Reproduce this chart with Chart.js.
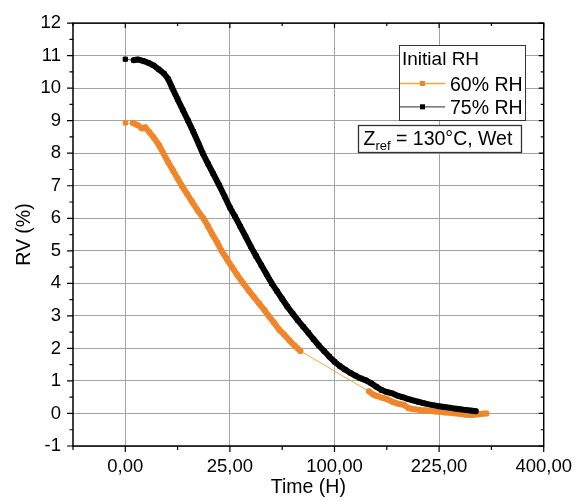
<!DOCTYPE html>
<html>
<head>
<meta charset="utf-8">
<title>RV vs time</title>
<script src="https://cdn.jsdelivr.net/npm/chart.js@4.4.1/dist/chart.umd.min.js"></script>
<style>
    html, body { margin: 0; padding: 0; background: #fff; }
    #chart { display: block; }
</style>
</head>
<body>
<canvas id="chart" width="582" height="501"></canvas>
<script>
// DATA - x is the square root of time (h), the axis labels show the hours
var rootT60 = [0, 0.36, 0.6, 0.8, 0.95, 1.15, 1.35, 1.6, 1.82, 2.05, 2.3, 2.5, 2.7, 2.95, 3.2, 3.45, 3.73, 3.95,
    4.15, 4.4, 4.6, 4.85, 5.1, 5.35, 5.64, 5.9, 6.15, 6.4, 6.65, 6.85, 7.1, 7.35, 7.6, 7.85, 8.1, 8.37,
    11.65, 11.85, 12.05, 12.3, 12.55, 12.8, 13.05, 13.3, 13.55, 13.8, 14.05, 14.3, 14.55, 14.8, 15.05,
    15.3, 15.55, 15.8, 16.05, 16.3, 16.55, 16.8, 17.05, 17.26];
var rv60 = [8.93, 8.93, 8.86, 8.76, 8.8, 8.65, 8.49, 8.26, 8.0, 7.72, 7.45, 7.22, 7.0, 6.75, 6.5, 6.25, 6.0, 5.76,
    5.52, 5.25, 5.0, 4.75, 4.5, 4.26, 4.0, 3.78, 3.58, 3.38, 3.18, 3.0, 2.8, 2.58, 2.42, 2.24, 2.08, 1.92,
    0.68, 0.58, 0.53, 0.48, 0.43, 0.35, 0.3, 0.27, 0.16, 0.13, 0.11, 0.1, 0.08, 0.06, 0.05,
    0.03, 0.02, 0.0, -0.02, -0.04, -0.05, -0.03, -0.01, 0.0];

var rootT75 = [0, 0.4, 0.6, 0.85, 1.1, 1.35, 1.6, 1.85, 2.05, 2.25, 2.5, 2.75, 3.0, 3.25, 3.5, 3.7, 3.95, 4.2,
    4.5, 4.75, 5.0, 5.25, 5.5, 5.75, 6.0, 6.25, 6.5, 6.75, 7.0, 7.25, 7.5, 7.75, 8.0, 8.25, 8.5, 8.75, 9.0,
    9.25, 9.5, 9.75, 10.0, 10.25, 10.5, 10.75, 11.0, 11.25, 11.5, 11.75, 12.0, 12.25, 12.5, 12.75, 13.0,
    13.25, 13.5, 13.75, 14.0, 14.25, 14.5, 14.75, 15.0, 15.25, 15.5, 15.75, 16.0, 16.25, 16.5, 16.75];
var rv75 = [10.89, 10.86, 10.88, 10.84, 10.78, 10.7, 10.58, 10.45, 10.28, 10.0, 9.66, 9.33, 9.0, 8.66, 8.3, 8.0,
    7.68, 7.37, 7.0, 6.67, 6.33, 6.05, 5.74, 5.44, 5.13, 4.84, 4.56, 4.28, 4.0, 3.76, 3.52, 3.28, 3.07,
    2.86, 2.67, 2.48, 2.28, 2.09, 1.92, 1.75, 1.59, 1.46, 1.35, 1.25, 1.16, 1.08, 1.02, 0.93, 0.82, 0.72,
    0.66, 0.62, 0.55, 0.5, 0.45, 0.4, 0.36, 0.32, 0.28, 0.25, 0.22, 0.2, 0.18, 0.15, 0.13, 0.11, 0.09, 0.07];

var seriesNames = ["60% RH", "75% RH"];
var xTickPos = [0, 5, 10, 15, 20];
var xTickLabels = ["0,00", "25,00", "100,00", "225,00", "400,00"];

// STYLE
var FONT = "'Liberation Sans', Arial, sans-serif";
var ORANGE = "#f0862a";
var ORANGE_LINE = "#f5a933";
var BLACK_LINE = "#555555";
var GRID = "#a3a3a3";
var GAP = 0.3; // wider steps than this get the thin connecting line

Chart.defaults.font.family = FONT;
Chart.defaults.color = "#000";

function toPoints(xs, ys) {
    return xs.map(function (x, i) {
        return { x: x, y: ys[i] };
    });
}

function isGap(seg) {
    return seg.p1.parsed.x - seg.p0.parsed.x > GAP;
}

function seriesDataset(label, xs, ys, color, thinColor, order) {
    return {
        label: label,
        data: toPoints(xs, ys),
        showLine: true,
        order: order,
        borderColor: color,
        borderWidth: 6,
        borderCapStyle: "round",
        borderJoinStyle: "round",
        pointStyle: "rect",
        pointRadius: 3,
        pointBorderWidth: 1,
        pointBackgroundColor: color,
        pointBorderColor: color,
        legendLine: thinColor,
        segment: {
            borderWidth: function (seg) { return isGap(seg) ? 1 : 6; },
            borderColor: function (seg) { return isGap(seg) ? thinColor : color; },
        },
    };
}

// FRAME, MINOR TICKS, LEGEND AND NOTE (drawn like the Origin plot)
var originDecor = {
    id: "originDecor",
    afterDatasetsDraw: function (chart) {
        var ctx = chart.ctx;
        var a = chart.chartArea;
        var xs = chart.scales.x;
        var ys = chart.scales.y;
        ctx.save();

        ctx.strokeStyle = "#000";
        ctx.lineWidth = 1.5;
        ctx.strokeRect(a.left, a.top, a.right - a.left, a.bottom - a.top);

        ctx.lineWidth = 1.2;
        ctx.beginPath();
        for (var v = ys.min; v <= ys.max; v += 0.5) {
            var py = ys.getPixelForValue(v);
            var major = v % 1 === 0;
            ctx.moveTo(a.left, py);
            ctx.lineTo(a.left - (major ? 6 : 3.5), py);
            ctx.moveTo(a.right, py);
            ctx.lineTo(a.right - (major ? 5 : 3), py);
        }
        for (var u = xs.min; u <= xs.max; u += 2.5) {
            var px = xs.getPixelForValue(u);
            var maj = u % 5 === 0;
            ctx.moveTo(px, a.bottom);
            ctx.lineTo(px, a.bottom + (maj ? 6 : 4));
            ctx.moveTo(px, a.top);
            ctx.lineTo(px, a.top + (maj ? 5 : 3));
        }
        ctx.stroke();

        // legend box
        ctx.fillStyle = "#fff";
        ctx.fillRect(399, 45, 127, 76);
        ctx.strokeStyle = "#333";
        ctx.lineWidth = 1;
        ctx.strokeRect(399.5, 45.5, 126, 75);
        ctx.fillStyle = "#000";
        ctx.font = "19px " + FONT;
        ctx.textBaseline = "alphabetic";
        ctx.fillText("Initial RH", 402, 65);
        chart.data.datasets.forEach(function (ds, i) {
            var ly = 83.5 + i * 23.3;
            ctx.strokeStyle = ds.legendLine;
            ctx.lineWidth = 1.3;
            ctx.beginPath();
            ctx.moveTo(400, ly);
            ctx.lineTo(445, ly);
            ctx.stroke();
            ctx.fillStyle = ds.pointBackgroundColor;
            ctx.fillRect(420, ly - 2.5, 5, 5);
            ctx.fillStyle = "#000";
            ctx.font = "19.5px " + FONT;
            ctx.fillText(ds.label, 450, ly + 7.5);
        });

        // note box
        ctx.fillStyle = "#fff";
        ctx.fillRect(359, 126, 163, 27);
        ctx.strokeStyle = "#333";
        ctx.strokeRect(358.5, 125.5, 163, 27);
        ctx.fillStyle = "#000";
        ctx.font = "19.5px " + FONT;
        var tx = 363.5;
        ctx.fillText("Z", tx, 145);
        tx += ctx.measureText("Z").width;
        ctx.font = "13px " + FONT;
        ctx.fillText("ref", tx, 150);
        tx += ctx.measureText("ref").width;
        ctx.font = "19.5px " + FONT;
        ctx.fillText(" = 130\u00b0C, Wet", tx, 145);

        ctx.restore();
    },
};

var chart = new Chart(document.getElementById("chart"), {
    type: "scatter",
    data: {
        datasets: [
            seriesDataset(seriesNames[0], rootT60, rv60, ORANGE, ORANGE_LINE, 1),
            seriesDataset(seriesNames[1], rootT75, rv75, "#000", BLACK_LINE, 0),
        ],
    },
    options: {
        responsive: false,
        animation: false,
        layout: { padding: { top: 15, right: 38, left: 0, bottom: 0 } },
        plugins: {
            legend: { display: false },
            tooltip: { enabled: false },
        },
        scales: {
            x: {
                type: "linear",
                min: -2.5,
                max: 20,
                afterBuildTicks: function (s) {
                    s.ticks = xTickPos.map(function (v) { return { value: v }; });
                },
                afterFit: function (s) { s.height = 55; },
                grid: { color: GRID, lineWidth: 1, drawTicks: false },
                border: { display: false },
                ticks: {
                    padding: 10,
                    maxRotation: 0,
                    autoSkip: false,
                    font: { size: 18.5 },
                    callback: function (v) { return xTickLabels[xTickPos.indexOf(v)]; },
                },
                title: {
                    display: true,
                    text: "Time (H)",
                    font: { size: 19.5 },
                    padding: { top: 0, bottom: 2 },
                },
            },
            y: {
                min: -1,
                max: 12,
                afterFit: function (s) { s.width = 73; },
                grid: { color: GRID, lineWidth: 1, drawTicks: false },
                border: { display: false },
                ticks: { stepSize: 1, padding: 12, font: { size: 18.5 } },
                title: {
                    display: true,
                    text: "RV (%)",
                    font: { size: 19.5 },
                    padding: { top: 13, bottom: 0 },
                },
            },
        },
    },
    plugins: [originDecor],
});
</script>
</body>
</html>
